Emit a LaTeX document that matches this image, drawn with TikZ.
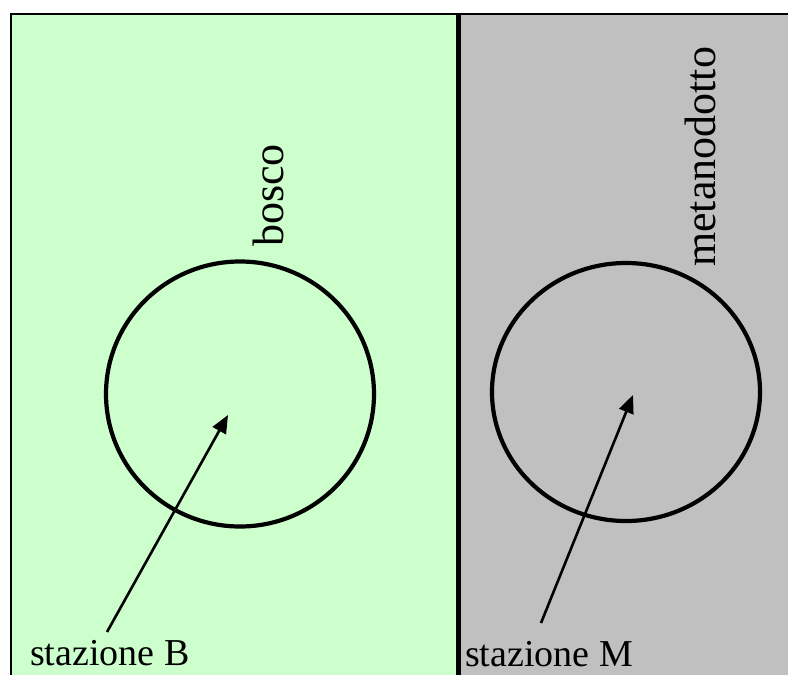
\documentclass[tikz,border=0pt]{standalone}
\usepackage{fontspec}
\setmainfont{Liberation Serif}
\usetikzlibrary{arrows.meta,shapes.geometric}
\definecolor{bosco}{HTML}{CCFFCC}
\definecolor{metano}{HTML}{C0C0C0}
\begin{document}
\begin{tikzpicture}[x=1pt,y=-1pt,
  ring/.style={ellipse,draw,line width=4.2pt,inner sep=0pt},
  lbl/.style={inner sep=0pt,font=\fontsize{38}{40}\selectfont,anchor=base west},
  vlbl/.style={inner sep=0pt,font=\fontsize{44}{46}\selectfont,anchor=base west,rotate=90},
  pointer/.style={line width=2.6pt,-{Triangle[length=18pt,width=15pt]}}]
\useasboundingbox (0,0) rectangle (788,675);
\fill[bosco] (11,14) rectangle (458.5,675);
\fill[metano] (458.5,14) rectangle (788,675);
\draw[line width=2.2pt] (11,680) -- (11,14) -- (795,14);
\draw[line width=5pt] (458.5,14) -- (458.5,680);
\node[ring,minimum width=268pt,minimum height=265pt] (cB) at (240,394) {};
\node[ring,minimum width=268pt,minimum height=258pt] (cM) at (626,392) {};
\node[vlbl] (tB) at (283,247) {bosco};
\node[vlbl] (tM) at (715,267) {metanodotto};
\node[lbl] (sB) at (30,665) {stazione B};
\node[lbl] (sM) at (465,666) {stazione M};
\coordinate (aB0) at (107,632);
\coordinate (aB1) at (228,415);
\coordinate (aM0) at (541,623);
\coordinate (aM1) at (633,395);
\draw[pointer] (aB0) -- (aB1);
\draw[pointer] (aM0) -- (aM1);
\end{tikzpicture}
\end{document}
